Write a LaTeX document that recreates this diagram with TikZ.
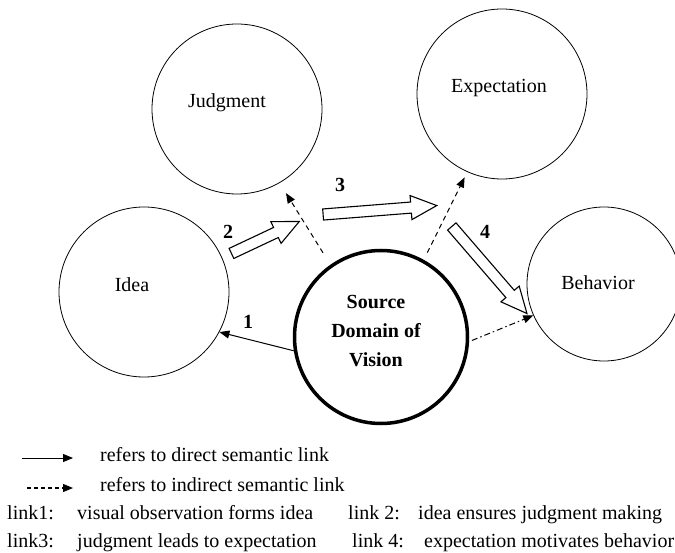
\documentclass[tikz,border=0pt]{standalone}
\usepackage{fontspec}
\setmainfont{Liberation Serif}
\usetikzlibrary{arrows.meta,shapes.arrows}
\begin{document}
\begin{tikzpicture}[x=1pt,y=-1pt,
  font=\fontsize{20}{29}\selectfont,
  concept/.style={circle,draw,line width=0.8pt,inner sep=0pt},
  direct/.style={line width=1pt,-{Triangle[length=10pt,width=8pt]}},
  indirect/.style={direct,dash pattern=on 5pt off 4pt},
  hollow/.style={single arrow,draw,line width=1.1pt,inner xsep=0pt,inner ysep=5pt,
    single arrow head extend=6.5pt,single arrow tip angle=50,minimum width=0pt},
  num/.style={font=\fontsize{20}{24}\selectfont\bfseries,inner sep=0pt},
  legend/.style={anchor=base west,inner sep=0pt}]
  \useasboundingbox (0,0) rectangle (675,553);
  % concepts
  \node[concept,minimum size=170pt,label={[xshift=-10pt,yshift=6pt]center:Judgment}] (judg) at (237,109) {};
  \node[concept,minimum size=170pt,label={[xshift=-3pt,yshift=6pt]center:Expectation}] (expt) at (502,94) {};
  \node[concept,minimum size=170pt,label={[xshift=-12pt,yshift=7pt]center:Idea}] (idea) at (144,292) {};
  \node[concept,minimum size=154pt,label={[xshift=-6pt,yshift=1pt]center:Behavior}] (behav) at (604,284) {};
  \node[concept,line width=3.5pt,minimum size=173pt,
    label={[align=center,font=\fontsize{20}{29}\selectfont\bfseries,xshift=-5pt,yshift=6pt]center:Source\\Domain of\\Vision}] (src) at (381,337) {};
  % semantic links
  \draw[direct] (src.189) -- (idea.-28);
  \draw[indirect,shorten <=14pt,shorten >=12pt] (src.125) -- (judg.-60);
  \draw[indirect,shorten <=8pt,shorten >=6pt] (src.61) -- (expt.-114);
  \draw[direct,dash pattern=on 6pt off 3pt on 1.5pt off 3pt,shorten <=3pt] (src.-3) -- (behav.204);
  % block arrows
  \node[hollow,minimum height=75pt,rotate=25.2] (arr2) at (260,240) {};
  \node[hollow,minimum height=114pt,rotate=4.5] (arr3) at (374,210.5) {};
  \node[hollow,minimum height=115pt,rotate=-49.2] (arr4) at (485.5,265.5) {};
  \node[num] (n1) at (248,322) {1};
  \node[num] (n2) at (228,232) {2};
  \node[num] (n3) at (340,185) {3};
  \node[num] (n4) at (485,232) {4};
  % legend
  \coordinate (d0) at (22,458);
  \coordinate (d1) at (73,458);
  \draw[direct] (d0) -- (d1);
  \node[legend] (dtxt) at (100,461) {refers to direct semantic link};
  \coordinate (i0) at (27,488);
  \coordinate (i1) at (73,488);
  \draw[indirect,line width=1.1pt,dash pattern=on 4pt off 3pt] (i0) -- (i1);
  \node[legend] (itxt) at (100,491) {refers to indirect semantic link};
  \node[legend] (k1) at (7,519) {link1:};
  \node[legend] (k1t) at (77,519) {visual observation forms idea};
  \node[legend] (k2) at (348,519) {link 2:};
  \node[legend] (k2t) at (418,519) {idea ensures judgment making};
  \node[legend] (k3) at (7,547) {link3:};
  \node[legend] (k3t) at (77,547) {judgment leads to expectation};
  \node[legend] (k4) at (352,547) {link 4:};
  \node[legend] (k4t) at (424,547) {expectation motivates behavior};
\end{tikzpicture}
\end{document}
